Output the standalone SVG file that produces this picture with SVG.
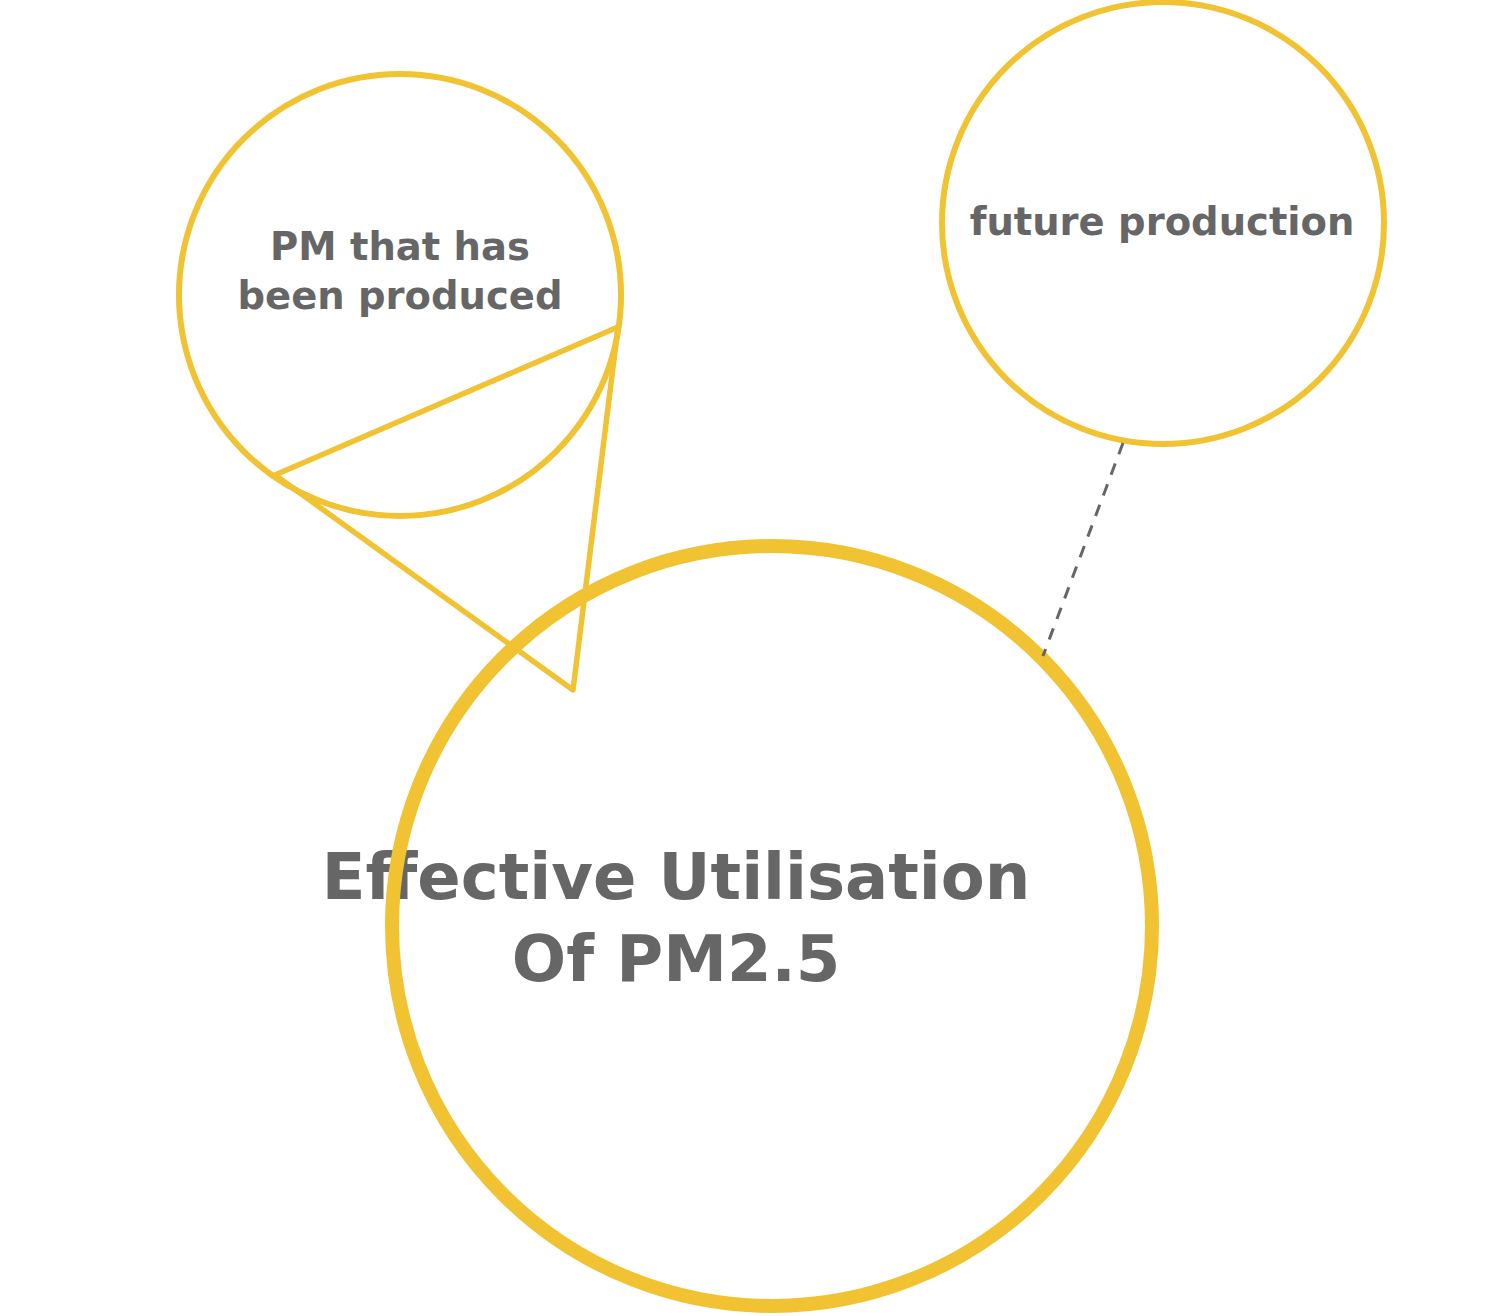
<svg xmlns="http://www.w3.org/2000/svg" width="1488" height="1316" viewBox="0 0 1488 1316">
<style>
.ring{fill:none;stroke:#F1C232;}
.lbl{font-family:"DejaVu Sans","Liberation Sans",sans-serif;font-weight:bold;fill:#666666;text-anchor:middle;}
</style>
<rect width="1488" height="1316" fill="#ffffff"/>
<g id="node-main">
<text class="lbl" x="676" y="899" font-size="64">Effective Utilisation</text>
<text class="lbl" x="676" y="981" font-size="64">Of PM2.5</text>
<circle class="ring" cx="772" cy="926" r="380" stroke-width="14"/>
</g>
<g id="node-produced">
<circle class="ring" cx="400" cy="295" r="221" stroke-width="6"/>
<text class="lbl" x="400" y="260" font-size="38.5">PM that has</text>
<text class="lbl" x="400" y="309" font-size="38.5">been produced</text>
</g>
<g id="node-future">
<circle class="ring" cx="1163" cy="223" r="221" stroke-width="6"/>
<text class="lbl" x="1162" y="235" font-size="38.5">future production</text>
</g>
<g id="connectors">
<polygon class="ring" points="275,475 618,327 573,690" stroke-width="5.5" stroke-linejoin="round"/>
<line x1="1123" y1="443" x2="1043" y2="656" stroke="#666666" stroke-width="3" stroke-dasharray="12,10"/>
</g>
</svg>
